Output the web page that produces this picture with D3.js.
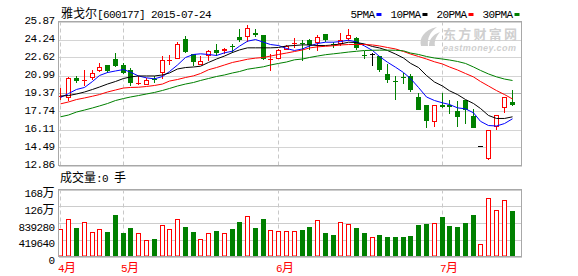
<!DOCTYPE html>
<html>
<head>
<meta charset="utf-8">
<script src="https://cdn.jsdelivr.net/npm/d3@7"></script>
<style>
  body { margin: 0; background: #fff; }
  svg { display: block; }
</style>
</head>
<body>
<svg id="chart" width="578" height="276"></svg>
<script>
// trading days shown (60-ish day window ending 2015-07-24, stock suspended after 07-14)
const dates = [
  '2015-04-21','2015-04-22','2015-04-23','2015-04-24','2015-04-27','2015-04-28','2015-04-29','2015-04-30',
  '2015-05-04','2015-05-05','2015-05-06','2015-05-07','2015-05-08','2015-05-11','2015-05-12','2015-05-13',
  '2015-05-14','2015-05-15','2015-05-18','2015-05-19','2015-05-20','2015-05-21','2015-05-22','2015-05-25',
  '2015-05-26','2015-05-27','2015-05-28','2015-05-29',
  '2015-06-01','2015-06-02','2015-06-03','2015-06-04','2015-06-05','2015-06-08','2015-06-09','2015-06-10',
  '2015-06-11','2015-06-12','2015-06-15','2015-06-16','2015-06-17','2015-06-18','2015-06-19','2015-06-23',
  '2015-06-24','2015-06-25','2015-06-26','2015-06-29','2015-06-30',
  '2015-07-01','2015-07-02','2015-07-03','2015-07-06','2015-07-07','2015-07-08','2015-07-09','2015-07-10',
  '2015-07-13','2015-07-14'
];
const open = [
  19.10, 18.98, 20.79, 20.53, 20.79, 21.38, 21.90, 22.44, 21.90, 21.45,
  20.32, 20.09, 20.73, 21.24, 22.37, 22.50, 24.31, 22.89, 21.96, 22.74,
  23.25, 23.19, 23.65, 24.43, 24.49, 24.85, 24.61, 22.49, 22.50, 23.34,
  23.94, 23.96, 24.18, 23.95, 24.70, 23.89, 23.88, 24.31, 24.40, 22.84,
  22.89, 22.74, 21.17, 20.52, 20.89, 20.99, 19.07, 18.37, 16.81, 18.37,
  18.37, 17.77, 18.76, 17.32, 14.64, 13.45, 16.36, 18.08, 18.58
];
const high = [
  19.88, 20.82, 20.93, 21.45, 21.45, 22.08, 21.90, 22.98, 22.08, 21.69,
  20.93, 20.79, 20.99, 22.74, 22.80, 24.00, 24.54, 22.89, 22.74, 23.34,
  23.88, 23.50, 23.88, 25.15, 25.51, 25.21, 24.61, 22.95, 23.40, 23.79,
  24.40, 24.18, 24.31, 24.61, 24.70, 24.00, 24.85, 25.21, 24.49, 23.19,
  23.04, 22.74, 21.99, 20.93, 21.24, 21.17, 19.37, 18.37, 18.37, 19.37,
  18.76, 18.67, 18.76, 17.92, 14.64, 16.10, 17.41, 19.07, 19.67
];
const low = [
  18.82, 18.67, 20.33, 20.03, 20.54, 21.29, 21.24, 21.74, 21.15, 20.03,
  20.09, 20.09, 20.33, 20.70, 21.92, 22.44, 23.04, 21.83, 21.92, 22.28,
  22.74, 22.89, 23.04, 24.00, 24.04, 24.49, 22.38, 21.38, 22.50, 23.34,
  23.50, 22.28, 23.34, 23.19, 24.06, 23.50, 23.64, 24.09, 23.34, 22.44,
  21.83, 21.33, 20.27, 18.82, 20.18, 19.48, 17.86, 16.27, 16.36, 18.08,
  17.47, 16.36, 16.57, 16.27, 14.64, 13.40, 16.05, 17.56, 18.22
];
const close = [
  19.14, 20.79, 20.45, 20.55, 21.24, 21.78, 21.38, 21.83, 21.24, 20.33,
  20.34, 20.54, 20.71, 22.35, 22.39, 23.88, 23.13, 22.19, 22.26, 23.22,
  23.04, 23.40, 23.63, 24.24, 25.30, 24.61, 22.50, 22.51, 23.34, 23.70,
  23.96, 23.94, 23.79, 24.49, 24.18, 23.87, 24.18, 24.61, 23.46, 22.82,
  22.89, 21.53, 20.57, 20.50, 20.87, 19.64, 17.86, 16.87, 18.37, 18.17,
  18.17, 17.26, 17.86, 16.27, 14.64, 16.10, 17.41, 19.07, 18.31
];
const volume = [
  693000, 944000, 718000, 860000, 610000, 693000, 618000, 1044000, 593000, 718000,
  585000, 409000, 443000, 785000, 693000, 944000, 743000, 618000, 434000, 585000,
  643000, 585000, 693000, 869000, 1010000, 718000, 944000, 660000, 635000, 635000,
  635000, 668000, 743000, 911000, 593000, 543000, 860000, 810000, 718000, 593000,
  484000, 543000, 493000, 493000, 493000, 518000, 793000, 818000, 835000, 994000,
  768000, 743000, 843000, 1044000, 309000, 1461000, 1169000, 1411000, 1144000
];
const ma5 = [
  19.00, 19.36, 19.73, 19.91, 20.45, 20.99, 21.26, 21.40, 21.53, 21.29,
  20.95, 20.78, 20.69, 20.90, 21.35, 21.94, 22.62, 22.89, 22.95, 22.89,
  22.80, 23.04, 23.19, 23.64, 24.09, 24.24, 24.00, 23.79, 23.70, 23.43,
  23.25, 23.39, 23.66, 23.88, 24.00, 24.00, 24.06, 24.18, 24.02, 23.66,
  23.25, 22.71, 22.19, 21.74, 21.26, 20.72, 19.91, 19.05, 18.73, 18.52,
  18.37, 18.07, 17.98, 17.62, 16.85, 16.47, 16.43, 16.65, 17.08
];
const ma10 = [
  19.14, 19.18, 19.32, 19.50, 19.73, 19.95, 20.22, 20.45, 20.72, 20.86,
  20.95, 20.95, 20.95, 21.04, 21.22, 21.58, 21.71, 21.76, 21.83, 22.17,
  22.48, 22.75, 23.07, 23.30, 23.49, 23.49, 23.49, 23.49, 23.52, 23.66,
  23.70, 23.76, 23.75, 23.70, 23.70, 23.75, 23.84, 24.00, 23.97, 23.84,
  23.61, 23.48, 23.25, 22.93, 22.57, 22.09, 21.71, 20.99, 20.40, 20.04,
  19.61, 19.27, 18.82, 18.46, 18.01, 17.38, 17.11, 17.11, 17.26
];
const ma20 = [
  18.43, 18.60, 18.82, 18.96, 19.12, 19.27, 19.50, 19.68, 19.86, 19.91,
  19.93, 20.00, 20.09, 20.22, 20.49, 20.63, 20.81, 20.96, 21.17, 21.51,
  21.71, 21.94, 22.17, 22.30, 22.46, 22.56, 22.62, 22.75, 22.89, 23.02,
  23.16, 23.30, 23.48, 23.58, 23.63, 23.68, 23.75, 23.79, 23.79, 23.79,
  23.75, 23.66, 23.52, 23.39, 23.16, 22.93, 22.71, 22.48, 22.23, 22.03,
  21.76, 21.49, 21.17, 20.86, 20.45, 20.04, 19.63, 19.27, 18.87
];
const ma30 = [
  17.26, 17.42, 17.69, 17.87, 18.06, 18.24, 18.46, 18.73, 18.91, 19.05,
  19.18, 19.32, 19.46, 19.64, 19.82, 20.04, 20.22, 20.36, 20.54, 20.72,
  20.90, 21.04, 21.22, 21.35, 21.56, 21.67, 21.78, 21.94, 22.08, 22.21,
  22.41, 22.48, 22.62, 22.75, 22.87, 22.95, 23.02, 23.11, 23.18, 23.25,
  23.27, 23.28, 23.28, 23.27, 23.22, 23.02, 22.89, 22.71, 22.57, 22.48,
  22.39, 22.26, 22.08, 21.76, 21.45, 21.13, 20.87, 20.67, 20.54
];
const priceTicks = [12.86, 14.49, 16.11, 17.74, 19.37, 20.99, 22.62, 24.24, 25.87];
const volumeTicks = [0, 419640, 839280, 1258920, 1678560];
const volumeTickLabels = ['0', '419640', '839280', '126万', '168万'];
const maNames = ['5PMA', '10PMA', '20PMA', '30PMA'];
const maColors = ['#0000ff', '#000000', '#ff0000', '#008000'];
const maSeries = [ma5, ma10, ma20, ma30];

const RED = '#ff0000', GREEN = '#008000';
const svg = d3.select('#chart');
const left = 58.5, right = 521.5;
const priceTop = 21.5, priceBottom = 165.5;
const volTop = 189.5, volBottom = 256.5;

const x = d3.scaleBand().domain(dates).range([57, 516]);
const cx = d => Math.floor(x(d) + x.bandwidth() / 2) + 0.5;
const y = d3.scaleLinear().domain([12.86, 25.87]).range([priceBottom, priceTop]);
const yv = d3.scaleLinear().domain([0, 1678560]).range([volBottom, volTop]);

// mixed latin / CJK text, CJK a bit bigger like the bitmap font
function fillText(sel, str) {
  sel.text(null);
  (str.match(/[\u3000-\u9fff]+|[^\u3000-\u9fff]+/g) || []).forEach(run => {
    const cjk = /[\u3000-\u9fff]/.test(run);
    sel.append('tspan')
      .attr('font-family', cjk ? '"Noto Sans CJK SC"' : '"Liberation Mono"')
      .attr('font-size', cjk ? 12 : 11)
      .attr('letter-spacing', cjk ? 0 : -0.6)
      .text(run);
  });
}

svg.append('rect').attr('width', 578).attr('height', 276).attr('fill', '#fff');

// price axis + grid
const yAxis = svg.append('g')
  .attr('transform', `translate(${left},0)`)
  .call(d3.axisLeft(y).tickValues(priceTicks).tickSize(-(right - left)).tickPadding(4).tickFormat(d3.format('.2f')));
yAxis.select('.domain').remove();
yAxis.selectAll('.tick line')
  .attr('stroke', d => d === 19.37 ? '#b4b4b4' : '#d4d4d4')
  .attr('shape-rendering', 'crispEdges');
yAxis.selectAll('.tick text').attr('dy', null).attr('y', 2).attr('fill', '#000')
  .each(function(d) { fillText(d3.select(this), d3.format('.2f')(d)); });

// volume axis + grid
const vAxis = svg.append('g')
  .attr('transform', `translate(${left},0)`)
  .call(d3.axisLeft(yv).tickValues(volumeTicks).tickSize(-(right - left)).tickPadding(4));
vAxis.select('.domain').remove();
vAxis.selectAll('.tick line').attr('stroke', '#cccccc').attr('shape-rendering', 'crispEdges');
vAxis.selectAll('.tick text').attr('dy', null).attr('y', 7).attr('fill', '#000')
  .each(function(d, i) { fillText(d3.select(this), volumeTickLabels[i]); });

// month separators and labels
const monthStarts = dates.filter((d, i) => i === 0 || d.slice(5, 7) !== dates[i - 1].slice(5, 7));
monthStarts.forEach(d => {
  [[priceTop, priceBottom], [volTop, volBottom]].forEach(([a, b]) => {
    svg.append('line')
      .attr('x1', cx(d)).attr('x2', cx(d)).attr('y1', a).attr('y2', b)
      .attr('stroke', '#c8c8c8').attr('stroke-dasharray', '4,3');
  });
  const t = svg.append('text').attr('x', cx(d) - 2.5).attr('y', 271.5).attr('fill', RED);
  fillText(t, (+d.slice(5, 7)) + '月');
});

// watermark
const wm = svg.append('g').attr('fill', '#cfcfcf');
wm.append('path')
  .attr('d', 'M421,46 C419,38 424,30 437,27 C430,32 427,38 428,46 Z M429,46 C429,40 432,35 440,32 C436,37 434,41 435,46 Z');
wm.append('text').attr('x', 443).attr('y', 38.5)
  .attr('font-family', '"Noto Sans CJK SC"').attr('font-weight', 'bold').attr('font-size', 13)
  .attr('textLength', 74).text('东方财富网');
wm.append('text').attr('x', 443).attr('y', 51)
  .attr('font-family', '"Liberation Sans"').attr('font-weight', 'bold').attr('font-style', 'italic')
  .attr('font-size', 9).attr('textLength', 73).text('eastmoney.com');

// candles
const candles = svg.append('g');
dates.forEach((d, i) => {
  const X = cx(d);
  const o = open[i], c = close[i];
  const col = c > o ? RED : c < o ? GREEN : '#000';
  const yt = Math.round(y(Math.max(o, c))), yb = Math.round(y(Math.min(o, c)));
  const yh = Math.round(y(high[i])), yl = Math.round(y(low[i]));
  if (yb - yt < 2) {
    candles.append('line').attr('x1', X).attr('x2', X).attr('y1', yh).attr('y2', yl).attr('stroke', col);
    const ym = Math.round(y(c)) + 0.5;
    candles.append('line').attr('x1', X - 2.5).attr('x2', X + 2.5).attr('y1', ym).attr('y2', ym).attr('stroke', col);
  } else if (c > o) {
    if (yh < yt) candles.append('line').attr('x1', X).attr('x2', X).attr('y1', yh).attr('y2', yt).attr('stroke', col);
    if (yl > yb) candles.append('line').attr('x1', X).attr('x2', X).attr('y1', yb).attr('y2', yl).attr('stroke', col);
    candles.append('rect').attr('x', X - 2).attr('y', yt + 0.5).attr('width', 4).attr('height', yb - yt - 1)
      .attr('fill', '#fff').attr('stroke', col);
  } else {
    candles.append('line').attr('x1', X).attr('x2', X).attr('y1', yh).attr('y2', yl).attr('stroke', col);
    candles.append('rect').attr('x', X - 2.5).attr('y', yt).attr('width', 5).attr('height', yb - yt).attr('fill', col);
  }
});

// moving averages
const line = d3.line().x((v, i) => cx(dates[i])).y(v => y(v));
maSeries.forEach((s, k) => {
  svg.append('path').attr('d', line(s)).attr('fill', 'none').attr('stroke', maColors[k]).attr('stroke-width', 1);
});

// volume bars
const vols = svg.append('g');
dates.forEach((d, i) => {
  const X = cx(d);
  const top = Math.round(yv(volume[i]));
  if (close[i] >= open[i]) {
    vols.append('rect').attr('x', X - 2).attr('y', top + 0.5).attr('width', 4).attr('height', 255.5 - top)
      .attr('fill', '#fff').attr('stroke', RED);
  } else {
    vols.append('rect').attr('x', X - 2.5).attr('y', top).attr('width', 5).attr('height', 256 - top).attr('fill', GREEN);
  }
});

// frames
[[priceTop, priceBottom], [volTop, volBottom]].forEach(([a, b]) => {
  svg.append('rect').attr('x', left).attr('y', a).attr('width', right - left).attr('height', b - a)
    .attr('fill', 'none').attr('stroke', '#a8a8a8');
});

// title and volume caption
fillText(svg.append('text').attr('x', 61).attr('y', 18), '雅戈尔[600177] 2015-07-24');
fillText(svg.append('text').attr('x', 60).attr('y', 182), '成交量:0 手');

// legend, right aligned to the frame
const legend = svg.append('g');
let lx = 519.5;
for (let k = maNames.length - 1; k >= 0; k--) {
  lx -= 5;
  legend.append('rect').attr('x', lx).attr('y', 13).attr('width', 5).attr('height', 3).attr('fill', maColors[k]);
  const t = legend.append('text').attr('x', lx - 2).attr('y', 17.5).attr('text-anchor', 'end');
  fillText(t, maNames[k]);
  lx -= 2 + t.node().getComputedTextLength() + 9;
}
</script>
</body>
</html>
